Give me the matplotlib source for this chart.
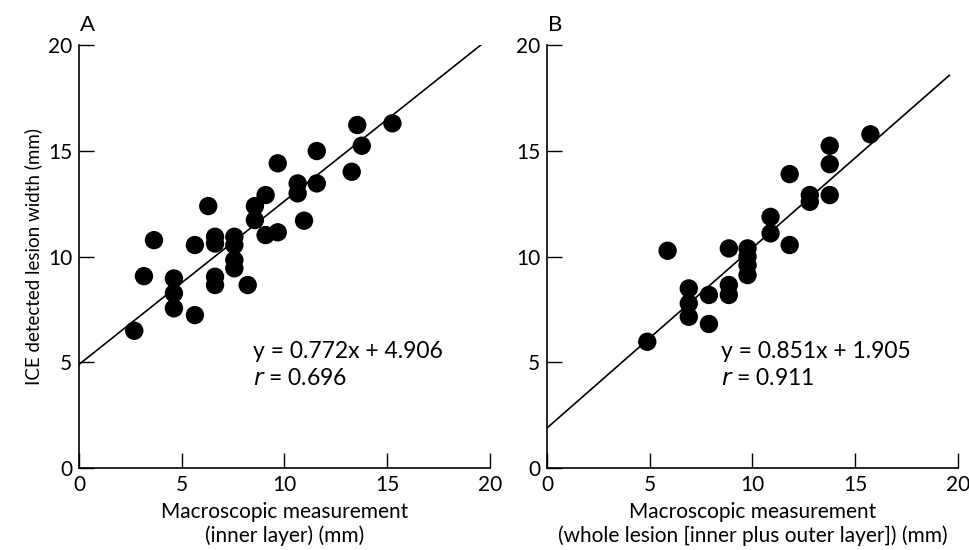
import numpy as np
import matplotlib
matplotlib.use("Agg")
import matplotlib.pyplot as plt

plt.rcParams['font.family'] = ['Lato', 'DejaVu Sans']

# Panel A: inner layer
a_x = [2.69, 3.16, 3.65, 4.62, 4.62, 4.62, 5.64, 5.64, 6.29, 6.62, 6.62, 6.62, 6.62,
       7.56, 7.56, 7.56, 7.56, 8.21, 8.56, 8.56, 9.08, 9.08, 9.67, 9.67,
       10.64, 10.64, 10.95, 11.57, 11.57, 13.27, 13.54, 13.76, 15.25]
a_y = [6.50, 9.08, 10.78, 8.97, 8.27, 7.56, 7.24, 10.55, 12.39, 10.94, 10.62, 9.05, 8.66,
       10.94, 10.55, 9.84, 9.45, 8.66, 12.39, 11.73, 12.91, 11.02, 11.15, 14.41,
       13.46, 12.99, 11.70, 14.99, 13.46, 14.01, 16.22, 15.24, 16.30]
a_fit = (0.772, 4.906)
a_r = "0.696"

# Panel B: whole lesion
b_x = [4.88, 5.87, 6.90, 6.90, 6.90, 7.88, 7.88, 8.85, 8.85, 8.85,
       9.76, 9.76, 9.76, 9.76, 10.88, 10.88, 11.81, 11.81, 12.79, 12.79,
       13.76, 13.76, 13.76, 15.74]
b_y = [5.98, 10.28, 8.50, 7.79, 7.16, 8.19, 6.82, 10.39, 8.66, 8.19,
       10.39, 10.00, 9.60, 9.13, 11.88, 11.10, 10.55, 13.90, 12.91, 12.59,
       15.24, 14.37, 12.91, 15.78]
b_fit = (0.851, 1.905)
b_r = "0.911"

ticks = [0, 5, 10, 15, 20]

fig = plt.figure(figsize=(9.69, 5.5), dpi=100)
axA = fig.add_axes([0.0815, 0.1485, 0.4242, 0.7697])
axB = fig.add_axes([0.5645, 0.1485, 0.4241, 0.7697])


def panel(ax, xs, ys, fit, r, letter, xlabel):
    ax.scatter(xs, ys, s=175, color="black", edgecolors="none", zorder=3)
    lx = np.array([0, 19.58])
    ax.plot(lx, fit[0] * lx + fit[1], color="black", lw=1.2, zorder=2)
    ax.set_xlim(0, 20)
    ax.set_ylim(0, 20)
    ax.set_xticks(ticks)
    ax.set_yticks(ticks)
    for s in ["top", "right"]:
        ax.spines[s].set_visible(False)
    ax.spines["left"].set_linewidth(1.2)
    ax.spines["bottom"].set_linewidth(1.2)
    ax.tick_params(direction="in", length=11, width=1.0, labelsize=15, pad=5)
    ax.set_xlabel(xlabel, fontsize=15, linespacing=1.2, labelpad=5)
    ax.text(8.45, 5.5, "y = %.3fx + %.3f" % fit, fontsize=16.5, va="center")
    ax.text(8.45, 4.25, "$\\it{r}$ = " + r, fontsize=16.5, va="center")
    ax.text(0.05, 20.45, letter, fontsize=16, va="bottom", ha="left", clip_on=False)


panel(axA, a_x, a_y, a_fit, a_r, "A", "Macroscopic measurement\n(inner layer) (mm)")
panel(axB, b_x, b_y, b_fit, b_r, "B",
      "Macroscopic measurement\n(whole lesion [inner plus outer layer]) (mm)")
axA.set_ylabel("ICE detected lesion width (mm)", fontsize=13.5, labelpad=4)

fig.savefig("out.png", dpi=100)
